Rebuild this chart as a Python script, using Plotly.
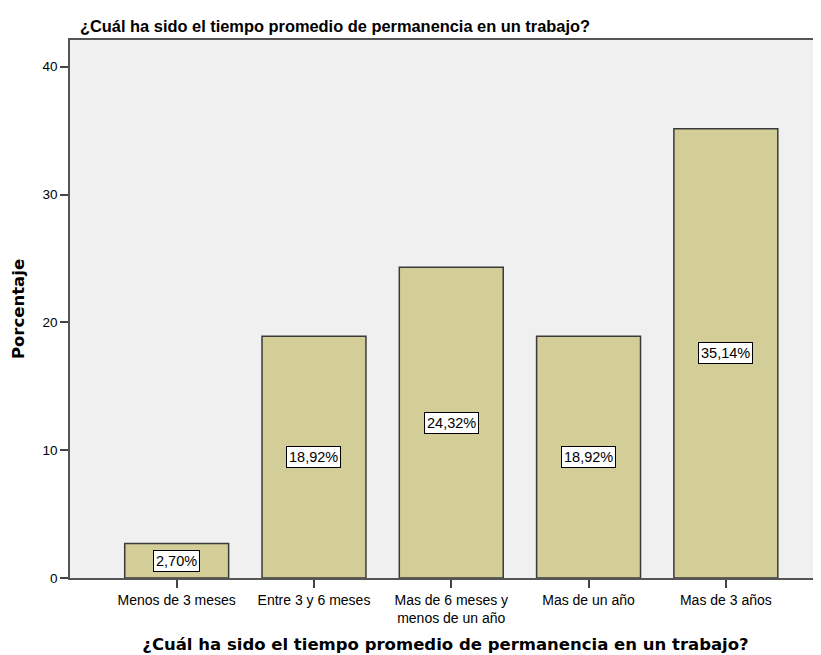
import plotly.graph_objects as go

categories = ["Menos de 3 meses", "Entre 3 y 6 meses", "Mas de 6 meses y<br>menos de un año",
              "Mas de un año", "Mas de 3 años"]
values = [2.70, 18.92, 24.32, 18.92, 35.14]
labels = ["2,70%", "18,92%", "24,32%", "18,92%", "35,14%"]
yticks = [0, 10, 20, 30, 40]

title = "¿Cuál ha sido el tiempo promedio de permanencia en un trabajo?"

xpos = list(range(len(categories)))

# page body has an 8px default margin, so the figure is sized to fit the window
W, H = 813, 647

fig = go.Figure()
fig.add_trace(go.Bar(
    x=xpos, y=values, width=0.757,
    marker=dict(color="#d3ce97", line=dict(color="#3a3a3a", width=1.5)),
    hoverinfo="skip",
))

for xi, v, lab in zip(xpos, values, labels):
    fig.add_annotation(
        x=xi, y=v / 2, text=lab, showarrow=False,
        font=dict(family="Liberation Sans, Arial", size=14.5, color="black"),
        bgcolor="white", bordercolor="black", borderwidth=1, borderpad=2,
    )

fig.update_layout(
    width=W, height=H,
    margin=dict(l=62, r=0, t=32, b=77),
    paper_bgcolor="white", plot_bgcolor="#f0f0f0",
    showlegend=False,
    title=dict(text="<b>" + title + "</b>", xref="container", yref="container",
               x=72 / W, xanchor="left", y=1 - 18 / H, yanchor="middle",
               font=dict(family="Liberation Sans, Arial", size=16.4, color="black")),
    xaxis=dict(
        range=[-0.777, 4.693], tickmode="array", tickvals=xpos, ticktext=categories,
        showgrid=False, zeroline=False, showline=True, linecolor="#555", linewidth=1.5,
        mirror=True, ticks="outside", ticklen=8, tickcolor="#444", tickwidth=1.5,
        automargin=False,
        tickfont=dict(family="Liberation Sans, Arial", size=14, color="black"),
        title=dict(text="<b>" + title + "</b>", standoff=14,
                   font=dict(family="DejaVu Sans", size=16.5, color="black")),
    ),
    yaxis=dict(
        range=[0, 42.09], tickmode="array", tickvals=yticks,
        showgrid=False, zeroline=False, showline=True, linecolor="#555", linewidth=1.5,
        mirror=True, ticks="outside", ticklen=8, tickcolor="#444", tickwidth=1.5,
        automargin=False,
        tickfont=dict(family="Liberation Sans, Arial", size=13.5, color="black"),
        title=dict(text="<b>Porcentaje</b>", standoff=14,
                   font=dict(family="DejaVu Sans", size=16.5, color="black")),
    ),
)

fig.write_html("out.html")
